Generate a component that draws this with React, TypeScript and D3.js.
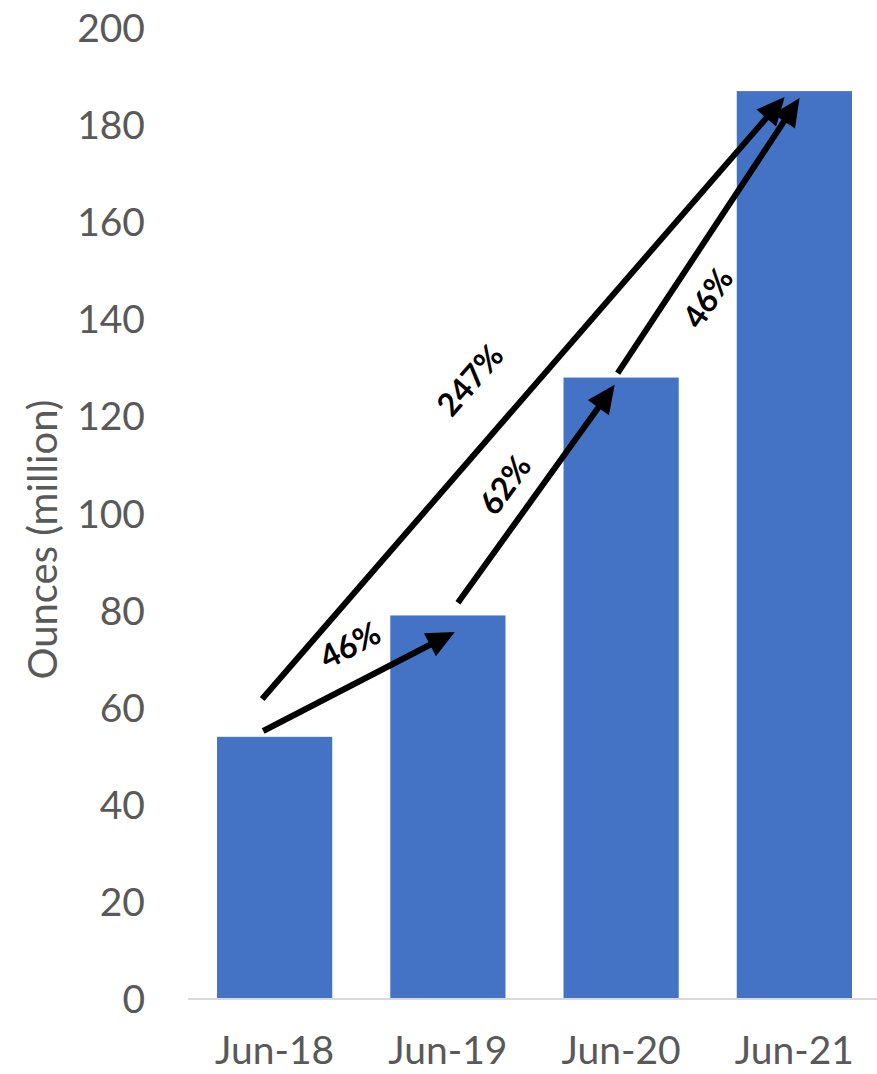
import React from "react";
import * as d3 from "d3";

const categories = ["Jun-18", "Jun-19", "Jun-20", "Jun-21"];
const values = [54, 79, 128, 187];
const yTicks = [0, 20, 40, 60, 80, 100, 120, 140, 160, 180, 200];
// growth arrows: from/to in (category index offset, value)
const arrowLabels = ["46%", "62%", "46%", "247%"];
const arrowFrom = [[-0.066, 55.2], [1.058, 81.6], [1.98, 128.9], [-0.072, 61.8]];
const arrowTo = [[1.04, 75.6], [1.963, 126.5], [3.03, 185.6], [2.944, 185.8]];
const labelPos = [[0.435, 72.9], [1.329, 105.9], [2.5, 144.4], [1.127, 127.5]];

const W = 877, H = 1074;
const left = 188, right = 881, top = 28, bottom = 999;
const FONT = "Lato, 'Open Sans', sans-serif";

export default function App() {
  const x = d3.scaleBand<string>().domain(categories).range([left, right]).paddingInner(0.335).paddingOuter(0.1675);
  const y = d3.scaleLinear().domain([0, 200]).range([bottom, top]);
  const step = x.step();
  const cx = (i: number) => (x(categories[0]) as number) + x.bandwidth() / 2 + i * step;

  const arrows = arrowFrom.map((f, k) => {
    const t = arrowTo[k];
    const x1 = cx(f[0]), y1 = y(f[1]), x2 = cx(t[0]), y2 = y(t[1]);
    const ang = Math.atan2(y2 - y1, x2 - x1);
    const len = 28, hw = 13;
    const bx = x2 - len * Math.cos(ang), by = y2 - len * Math.sin(ang);
    const px = -Math.sin(ang), py = Math.cos(ang);
    const head = `M${x2},${y2}L${bx + hw * px},${by + hw * py}L${bx - hw * px},${by - hw * py}Z`;
    return { x1, y1, bx: x2 - (len - 4) * Math.cos(ang), by: y2 - (len - 4) * Math.sin(ang), head, deg: (ang * 180) / Math.PI };
  });

  return (
    <svg width={W} height={H} style={{ position: "absolute", left: 0, top: 0, background: "#fff" }}>
      {values.map((v, i) => (
        <rect key={i} x={x(categories[i])} y={y(v)} width={x.bandwidth()} height={bottom - y(v)} fill="#4472C4" />
      ))}
      <line x1={left} x2={W} y1={bottom} y2={bottom} stroke="#D9D9D9" strokeWidth={2} />
      {yTicks.map((t) => (
        <text key={t} x={145} y={y(t)} dy="0.36em" textAnchor="end" fontFamily={FONT} fontSize={39} fill="#595959">{t}</text>
      ))}
      {categories.map((c) => (
        <text key={c} x={(x(c) as number) + x.bandwidth() / 2} y={1064} textAnchor="middle" fontFamily={FONT} fontSize={39} fill="#595959">{c}</text>
      ))}
      <text transform={`translate(57,${(top + bottom) / 2 + 26}) rotate(-90)`} textAnchor="middle" fontFamily={FONT} fontSize={40} fill="#595959">Ounces (million)</text>
      {arrows.map((a, k) => (
        <g key={k}>
          <line x1={a.x1} y1={a.y1} x2={a.bx} y2={a.by} stroke="#000" strokeWidth={6} />
          <path d={a.head} fill="#000" />
          <text transform={`translate(${cx(labelPos[k][0])},${y(labelPos[k][1])}) rotate(${a.deg})`} textAnchor="middle" dy="0.36em" fontFamily={FONT} fontWeight="bold" fontSize={32} fill="#000">{arrowLabels[k]}</text>
        </g>
      ))}
    </svg>
  );
}
